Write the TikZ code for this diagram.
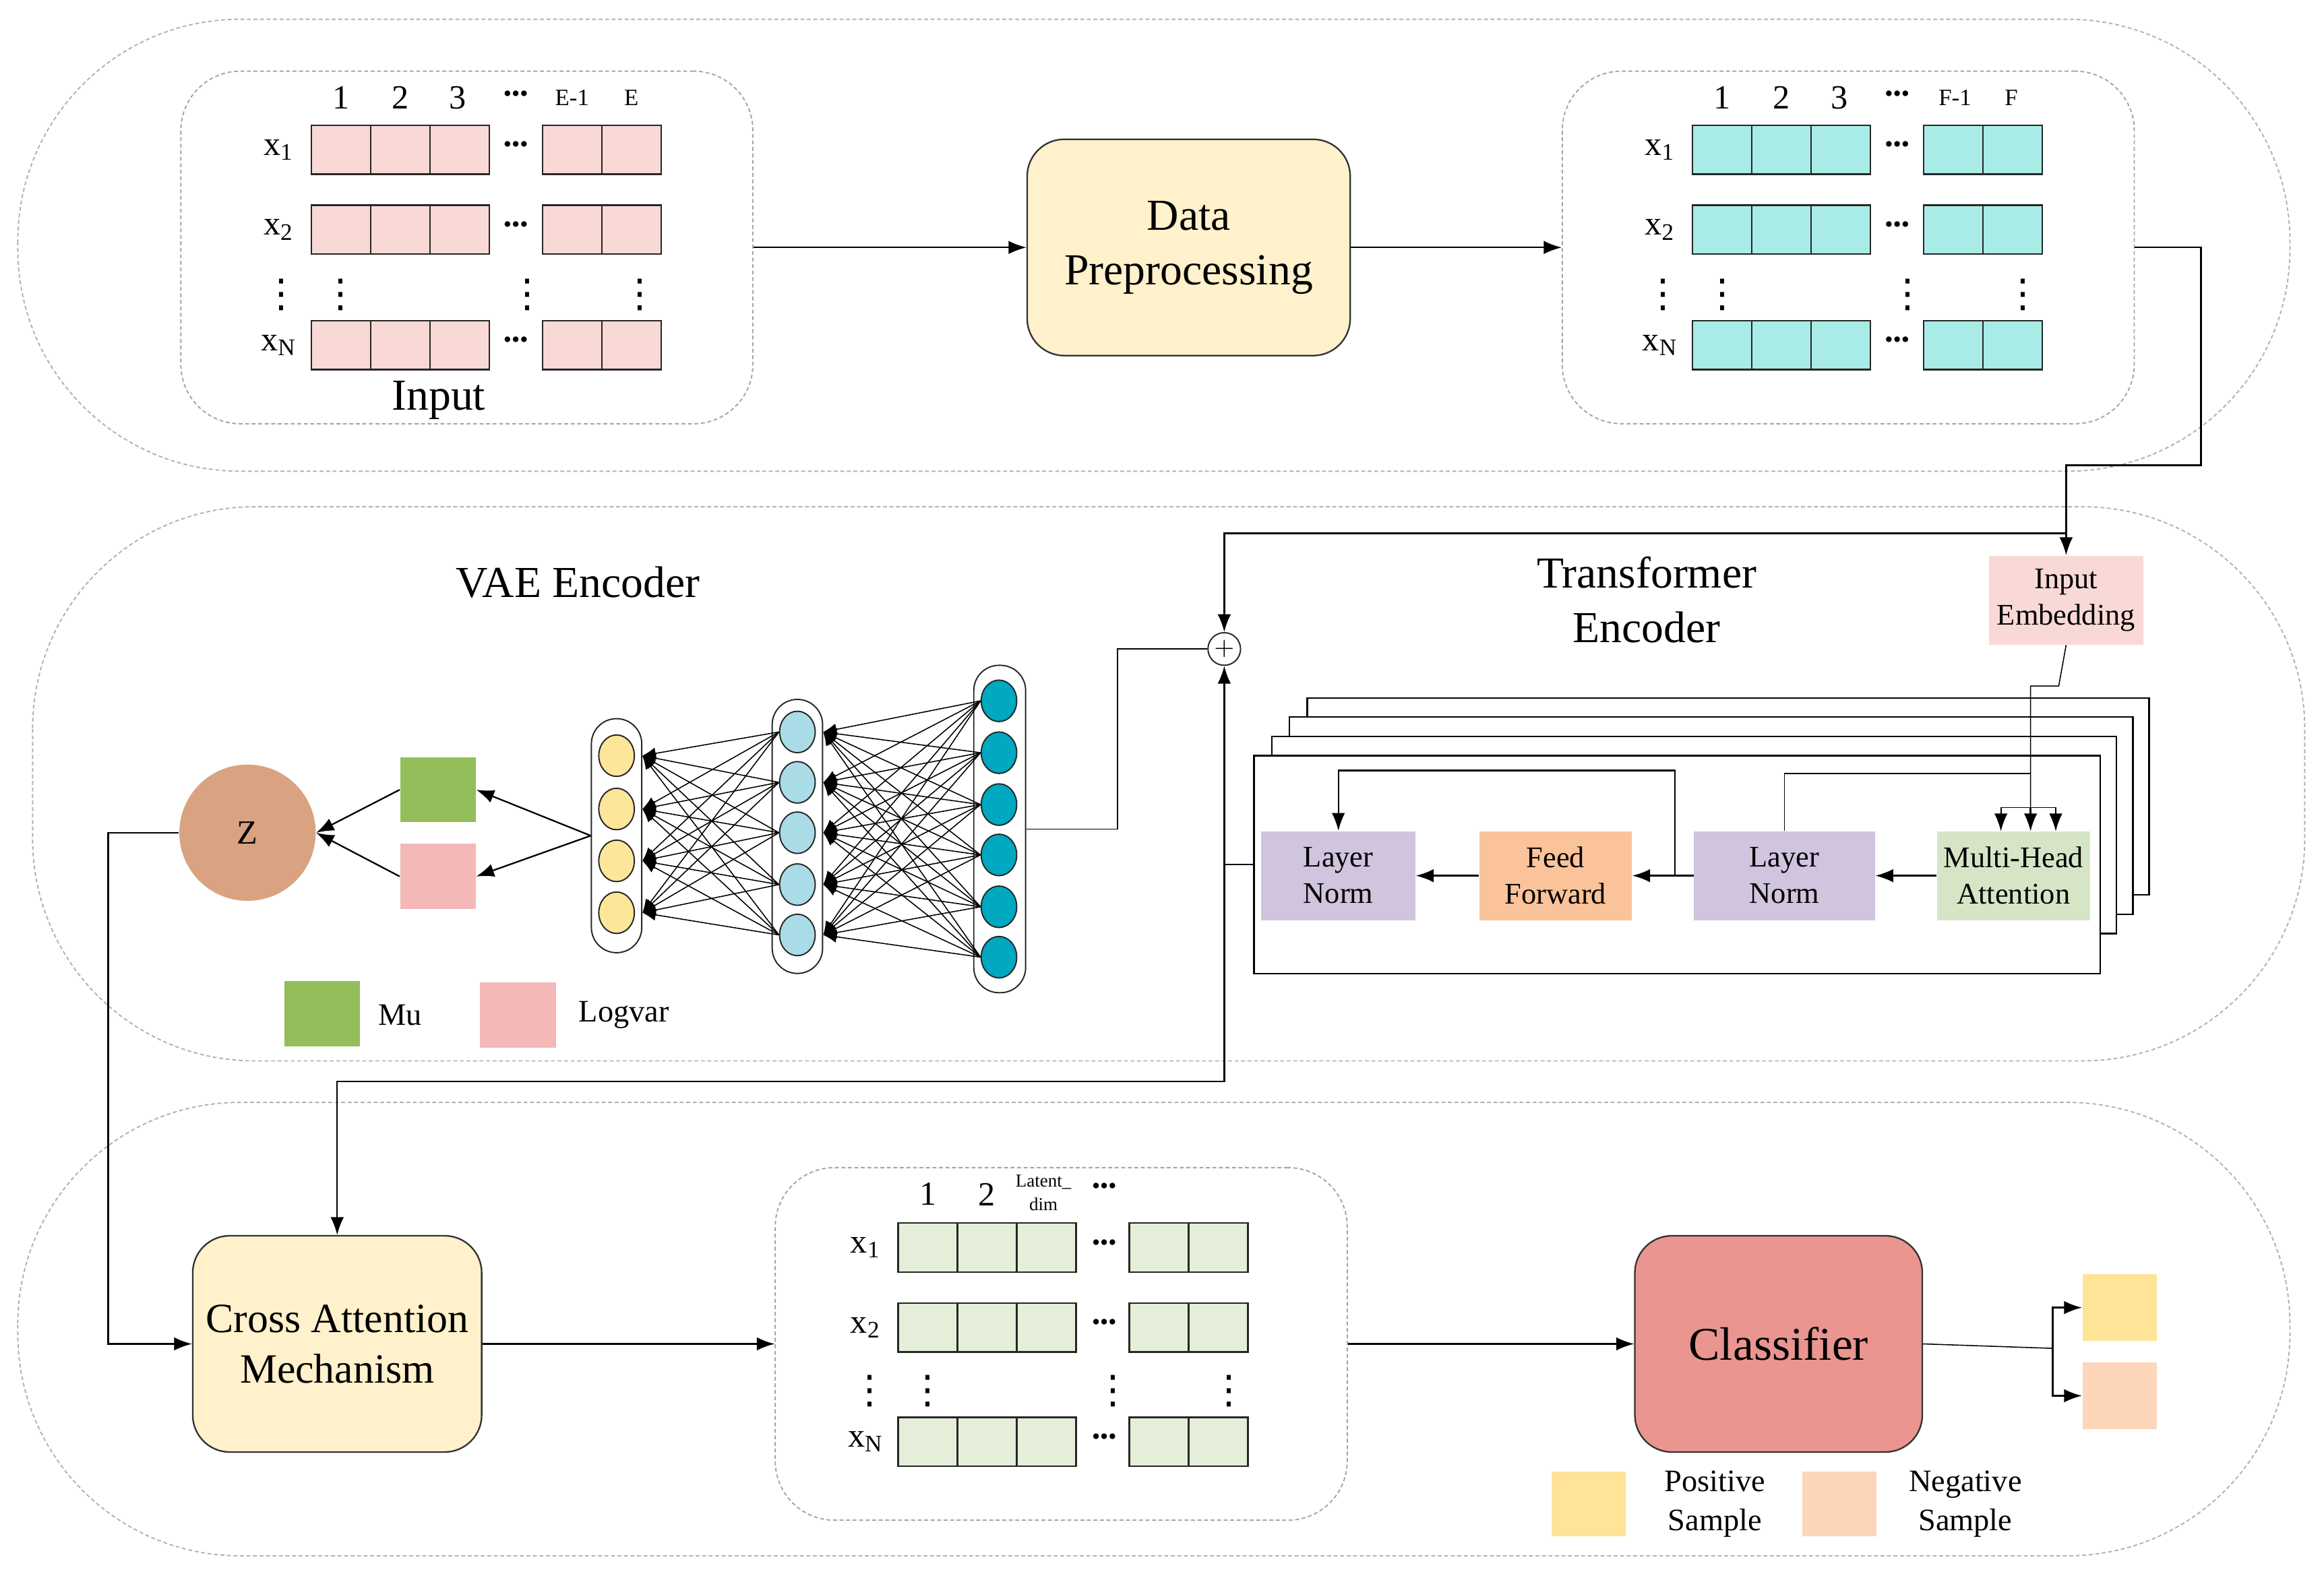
\documentclass[tikz,border=0pt]{standalone}
\usepackage{amsmath}
\usepackage{amssymb}
\usepackage{fontspec}
\setmainfont{Liberation Serif}
\newfontfamily\dotfont{DejaVu Sans}
\usetikzlibrary{arrows.meta,shapes.geometric}

\definecolor{cellpink}{HTML}{F8D9D6}
\definecolor{cellcyan}{HTML}{A8EBE7}
\definecolor{cellgreen}{HTML}{E4EED9}
\definecolor{boxcream}{HTML}{FFF1CC}
\definecolor{embpink}{HTML}{F9D9D6}
\definecolor{normlilac}{HTML}{D0C4DE}
\definecolor{ffpeach}{HTML}{FBC39A}
\definecolor{mhagreen}{HTML}{D6E5C6}
\definecolor{mugreen}{HTML}{93BE5A}
\definecolor{lvpink}{HTML}{F3B8B7}
\definecolor{ztan}{HTML}{D9A381}
\definecolor{nnyellow}{HTML}{FDE59A}
\definecolor{nnblue}{HTML}{A9DCE6}
\definecolor{nnteal}{HTML}{00A8C0}
\definecolor{clsred}{HTML}{EA9590}
\definecolor{posyellow}{HTML}{FFE497}
\definecolor{negpeach}{HTML}{FDD6BA}

\begin{document}
\begin{tikzpicture}[x=0.02cm,y=-0.02cm,
    region/.style={draw=gray!60,dash pattern=on 1.5pt off 1pt,line width=0.5pt,rounded corners=3cm},
    panel/.style={draw=gray!70,dash pattern=on 1.5pt off 1pt,line width=0.5pt,rounded corners=0.8cm,minimum width=7.72cm,minimum height=4.76cm},
    cell/.style={draw=black!85,line width=0.6pt,minimum width=0.8cm,minimum height=0.66cm,inner sep=0pt},
    block/.style={draw=black!80,line width=0.6pt,rounded corners=0.5cm,minimum height=2.92cm,align=center,inner sep=0pt},
    unit/.style={minimum height=1.2cm,align=center,inner sep=0pt,font=\fontsize{11.5}{14}\selectfont},
    swatch/.style={minimum width=1.02cm,minimum height=0.88cm,inner sep=0pt},
    neuron/.style={ellipse,draw=black!85,line width=0.5pt,minimum width=0.48cm,minimum height=0.56cm,inner sep=0pt},
    layerbox/.style={draw=black!85,line width=0.5pt,rounded corners=0.34cm,minimum width=0.68cm,inner sep=0pt},
    arr/.style={-{Latex[length=2.4mm,width=1.8mm]},line width=0.6pt},
    nnarr/.style={-{Latex[length=1.8mm,width=1.6mm]},line width=0.4pt},
    title/.style={font=\fontsize{17}{21}\selectfont,align=center},
    collab/.style={font=\fontsize{13}{15}\selectfont,inner sep=0pt},
    smalllab/.style={font=\fontsize{9}{10}\selectfont,inner sep=0pt},
    rowlab/.style={font=\fontsize{13}{15}\selectfont,inner sep=0pt},
    dots/.style={font=\fontsize{9}{10}\selectfont,inner sep=0pt},
    vdots/.style={font=\dotfont\fontsize{15}{15}\selectfont,inner sep=0pt},
    legend/.style={font=\fontsize{12}{15}\selectfont,align=center}]
    \useasboundingbox (0,0) rectangle (1568,1062);
    \draw[region] (12,13) rectangle (1545,318);
    \draw[region] (22,342) rectangle (1555,716);
    \draw[region] (12,744) rectangle (1545,1050);

    \node[panel] (inbox) at (315,167) {};
    \foreach \t/\x in {1/230,2/270,3/309}
        \node[collab] (inc\t) at (\x,66) {\t};
    \node[dots] (incd) at (348,65) {\textbullet\textbullet\textbullet};
    \node[smalllab] (inc4) at (386,66) {E-1};
    \node[smalllab] (inc5) at (426,66) {E};
    \foreach \r/\y in {1/101,2/155,N/233} {
        \node[rowlab] (inr\r) at (188,\y) {x\textsubscript{\r}};
        \foreach \c/\x in {1/230,2/270,3/310,4/386,5/426}
            \node[cell,fill=cellpink] (in\r\c) at (\x,\y) {};
        \node[dots] (ind\r) at (348,\y-2) {\textbullet\textbullet\textbullet};
    }
    \foreach \x [count=\k] in {190,230,356,432}
        \node[vdots] (inv\k) at (\x,199) {⋮};
    \node[title] (inlab) at (296,270) {Input};

    \node[block,title,fill=boxcream,minimum width=4.36cm] (prep) at (802,167) {Data\\Preprocessing};

    \node[panel] (outbox) at (1247,167) {};
    \foreach \t/\x in {1/1162,2/1202,3/1241}
        \node[collab] (outc\t) at (\x,66) {\t};
    \node[dots] (outcd) at (1280,65) {\textbullet\textbullet\textbullet};
    \node[smalllab] (outc4) at (1319,66) {F-1};
    \node[smalllab] (outc5) at (1357,66) {F};
    \foreach \r/\y in {1/101,2/155,N/233} {
        \node[rowlab] (outr\r) at (1120,\y) {x\textsubscript{\r}};
        \foreach \c/\x in {1/1162,2/1202,3/1242,4/1318,5/1358}
            \node[cell,fill=cellcyan] (out\r\c) at (\x,\y) {};
        \node[dots] (outd\r) at (1280,\y-2) {\textbullet\textbullet\textbullet};
    }
    \foreach \x [count=\k] in {1122,1162,1287,1365}
        \node[vdots] (outv\k) at (\x,199) {⋮};

    \draw[arr] (inbox) -- (prep);
    \draw[arr] (prep) -- (outbox);

    \node[title] (vaelab) at (390,393) {VAE Encoder};
    \node[title] (tflab) at (1111,405) {Transformer\\Encoder};

    \node[unit,fill=embpink,minimum width=2.08cm] (emb) at (1394,405) {Input\\Embedding};
    \coordinate (c1) at (1485,314);
    \coordinate (split) at (1394,360);
    \draw[arr] (outbox.east) -| (c1) -| (emb.north);
    \node[circle,draw=black!85,fill=white,line width=0.5pt,minimum size=0.44cm,inner sep=0pt,font=\fontsize{10}{10}\selectfont] (plus) at (826,438) {$+$};
    \draw[arr] (split) -| (plus.north);

    \foreach \k in {3,2,1}
        \draw[fill=white,line width=0.6pt] ({846+12*\k},{510-13*\k}) rectangle ({1417+11*\k},{643-13*\k});
    \node[draw,fill=white,line width=0.6pt,minimum width=11.42cm,minimum height=2.94cm] (tf0) at (1131.5,583.5) {};
    \node[unit,fill=normlilac,minimum width=2.08cm] (ln1) at (903,591) {Layer\\Norm};
    \node[unit,fill=ffpeach,minimum width=2.06cm] (ff) at (1049.5,591) {Feed\\Forward};
    \node[unit,fill=normlilac,minimum width=2.44cm] (ln2) at (1204,591) {Layer\\Norm};
    \node[unit,fill=mhagreen,minimum width=2.06cm] (mha) at (1358.5,591) {Multi-Head\\Attention};
    \draw[arr] (mha) -- (ln2);
    \draw[arr] (ln2) -- (ff);
    \draw[arr] (ff) -- (ln1);
    \coordinate (r1) at (1130,591);
    \draw[arr] (r1) -- (1130,520) -| (ln1.north);
    \draw (emb.south) -- (1389,463) -- (1370,463) -- (1370,545);
    \draw (ln2.north) |- (1370,522);
    \draw (1350,545) -- (1387,545);
    \foreach \x in {1350,1370,1387}
        \draw[arr] (\x,545) -- (\x,561);

    \node[layerbox,minimum height=3.16cm] (la) at (416,564) {};
    \node[layerbox,minimum height=3.7cm] (lb) at (538,564.5) {};
    \node[layerbox,minimum height=4.42cm,minimum width=0.7cm] (lc) at (674.5,559.5) {};
    \foreach \i/\y in {1/510,2/546,3/581,4/616}
        \node[neuron,fill=nnyellow] (a\i) at (416,\y) {};
    \foreach \i/\y in {1/494,2/528,3/562,4/597,5/631}
        \node[neuron,fill=nnblue] (b\i) at (538,\y) {};
    \foreach \i/\y in {1/473,2/508,3/543,4/577,5/612,6/646}
        \node[neuron,fill=nnteal] (c\i) at (674,\y) {};
    \foreach \i in {1,...,6}
        \foreach \j in {1,...,5}
            \draw[nnarr] (c\i.west) -- (lb.east |- b\j);
    \foreach \i in {1,...,5}
        \foreach \j in {1,...,4}
            \draw[nnarr] (b\i.west) -- (la.east |- a\j);
    \draw (lc.east) -- (754,559.5) |- (plus.west);

    \node[swatch,fill=mugreen] (mu) at (295.5,533) {};
    \node[swatch,fill=lvpink] (lv) at (295.5,591.5) {};
    \node[circle,fill=ztan,minimum size=1.84cm,inner sep=0pt,font=\fontsize{13}{15}\selectfont] (z) at (167,562) {Z};
    \draw[arr] (la.west) -- (mu.east);
    \draw[arr] (la.west) -- (lv.east);
    \draw[arr] (mu.west) -- (z.east);
    \draw[arr] (lv.west) -- (z.east);

    \node[swatch,fill=mugreen] (mukey) at (217.5,684) {};
    \node[legend] (mutext) at (270,685) {Mu};
    \node[swatch,fill=lvpink] (lvkey) at (349.5,685) {};
    \node[legend] (lvtext) at (421,685) {Logvar};

    \node[block,fill=boxcream,minimum width=3.9cm,font=\fontsize{16}{19.5}\selectfont] (ca) at (227.5,907) {Cross Attention\\Mechanism};
    \coordinate (j1) at (826,583.5);
    \draw[arr] (tf0.west) -| (plus.south);
    \draw[arr] (j1) -- (826,730) -| (ca.north);
    \draw[arr] (z.west) -- (73,562) |- (ca.west);

    \node[panel] (latbox) at (716,907) {};
    \foreach \t/\x in {1/626,2/666}
        \node[collab] (latc\t) at (\x,806) {\t};
    \node[font=\fontsize{7}{9}\selectfont,align=center,inner sep=0pt] (latc3) at (704,805) {Latent\_\\dim};
    \node[dots] (latcd) at (745,802) {\textbullet\textbullet\textbullet};
    \foreach \r/\y in {1/842,2/896,N/973} {
        \node[rowlab] (latr\r) at (584,\y) {x\textsubscript{\r}};
        \foreach \c/\x in {1/626,2/666,3/706,4/782,5/822}
            \node[cell,fill=cellgreen] (lat\r\c) at (\x,\y) {};
        \node[dots] (latd\r) at (745,\y-2) {\textbullet\textbullet\textbullet};
    }
    \foreach \x [count=\k] in {587,626,751,829}
        \node[vdots] (latv\k) at (\x,939) {⋮};

    \node[block,fill=clsred,minimum width=3.88cm,font=\fontsize{18}{22}\selectfont] (cls) at (1200,907) {Classifier};
    \draw[arr] (ca) -- (latbox);
    \draw[arr] (latbox) -- (cls);
    \node[swatch,minimum width=1cm,minimum height=0.9cm,fill=posyellow] (pos) at (1430,882.5) {};
    \node[swatch,minimum width=1cm,minimum height=0.9cm,fill=negpeach] (neg) at (1430,942) {};
    \coordinate (fork) at (1385,910);
    \draw (cls.east) -- (fork);
    \draw[arr] (fork) |- (pos.west);
    \draw[arr] (fork) |- (neg.west);

    \node[swatch,minimum width=1cm,fill=posyellow] (poskey) at (1072,1015) {};
    \node[legend] (postext) at (1157,1015) {Positive\\Sample};
    \node[swatch,minimum width=1cm,fill=negpeach] (negkey) at (1241,1015) {};
    \node[legend] (negtext) at (1326,1015) {Negative\\Sample};
\end{tikzpicture}
\end{document}
